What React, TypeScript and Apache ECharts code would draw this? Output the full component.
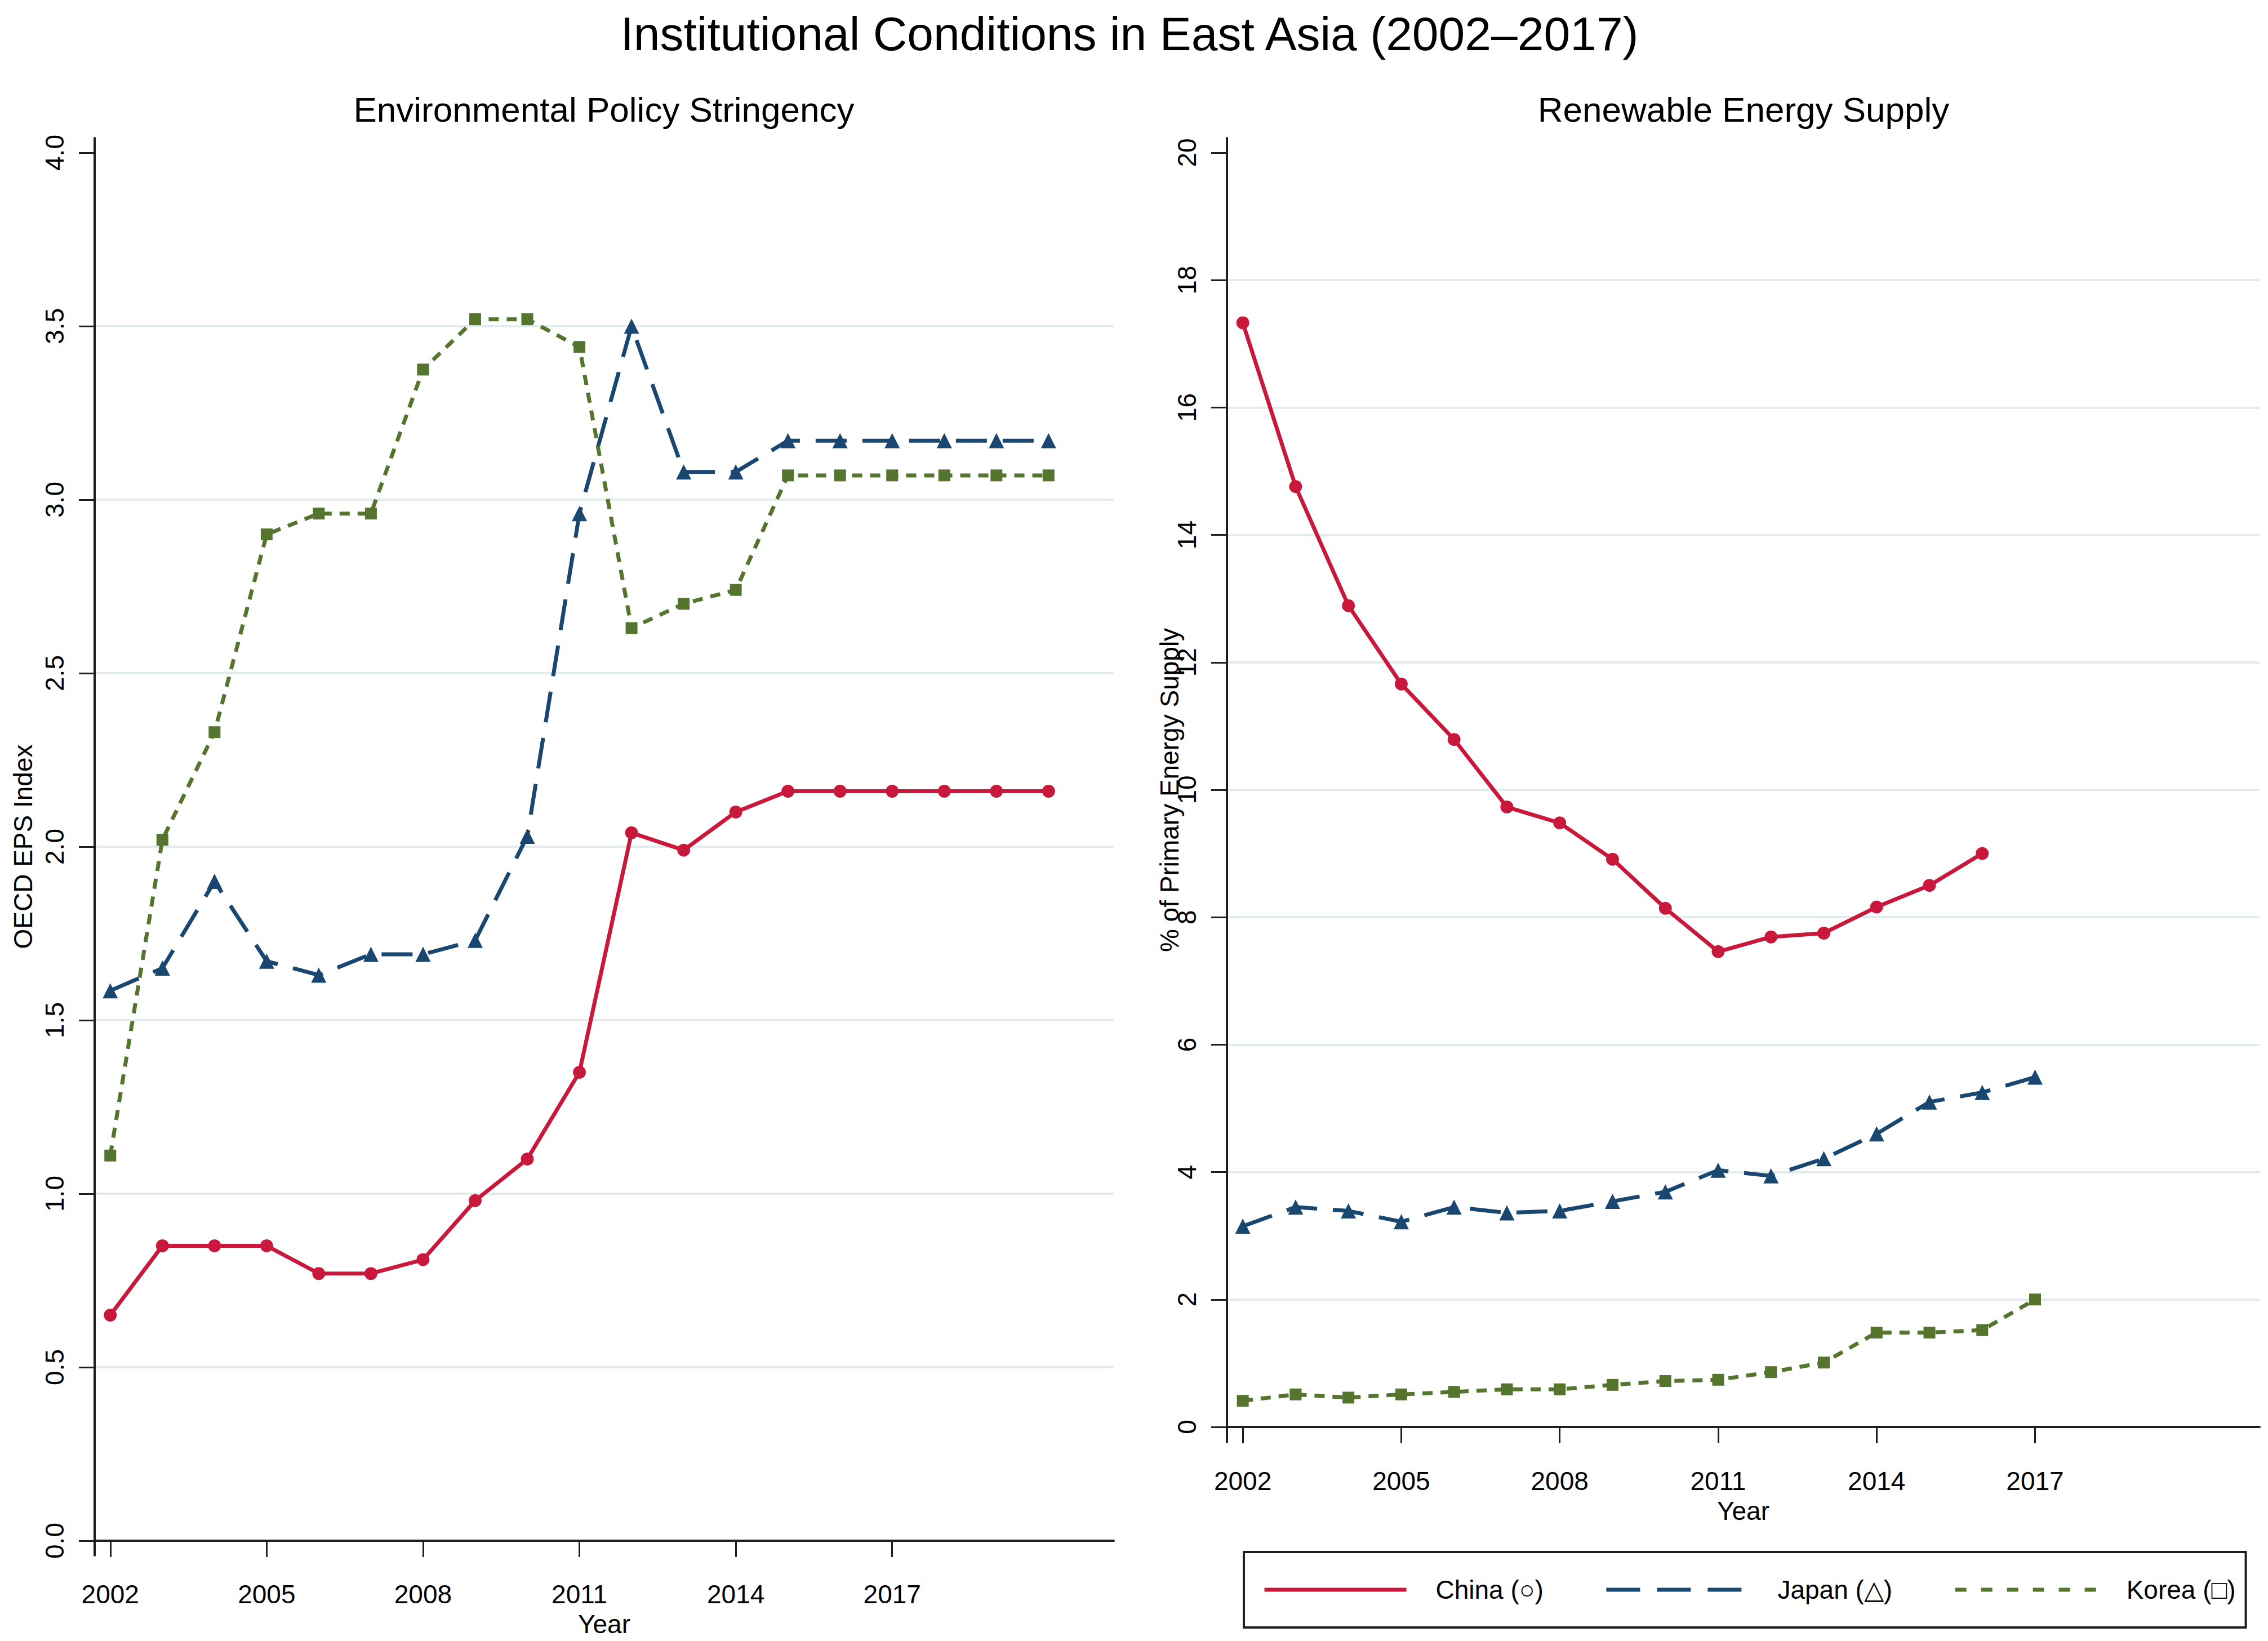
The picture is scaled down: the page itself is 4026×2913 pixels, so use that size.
import React, { useEffect, useRef } from "react";
import * as echarts from "echarts";

// years and values
const epsYears = [2002, 2003, 2004, 2005, 2006, 2007, 2008, 2009, 2010, 2011, 2012, 2013, 2014, 2015, 2016, 2017, 2018, 2019, 2020];
const chinaEps = [0.65, 0.85, 0.85, 0.85, 0.77, 0.77, 0.81, 0.98, 1.1, 1.35, 2.04, 1.99, 2.1, 2.16, 2.16, 2.16, 2.16, 2.16, 2.16];
const japanEps = [1.585, 1.65, 1.9, 1.67, 1.63, 1.69, 1.69, 1.73, 2.03, 2.96, 3.5, 3.08, 3.08, 3.17, 3.17, 3.17, 3.17, 3.17, 3.17];
const koreaEps = [1.11, 2.02, 2.33, 2.9, 2.96, 2.96, 3.375, 3.52, 3.52, 3.44, 2.63, 2.7, 2.74, 3.07, 3.07, 3.07, 3.07, 3.07, 3.07];

const resYears = [2002, 2003, 2004, 2005, 2006, 2007, 2008, 2009, 2010, 2011, 2012, 2013, 2014, 2015, 2016, 2017];
const chinaRes = [17.33, 14.76, 12.89, 11.66, 10.79, 9.73, 9.48, 8.91, 8.14, 7.46, 7.69, 7.75, 8.16, 8.5, 9.0];
const japanRes = [3.15, 3.45, 3.39, 3.22, 3.45, 3.36, 3.39, 3.54, 3.69, 4.03, 3.94, 4.21, 4.6, 5.1, 5.25, 5.49];
const koreaRes = [0.41, 0.51, 0.46, 0.51, 0.55, 0.59, 0.59, 0.66, 0.72, 0.74, 0.86, 1.01, 1.48, 1.48, 1.52, 2.0];

const yearTicks = [2002, 2005, 2008, 2011, 2014, 2017];
const epsTicks = [0, 0.5, 1, 1.5, 2, 2.5, 3, 3.5, 4];
const resTicks = [0, 2, 4, 6, 8, 10, 12, 14, 16, 18, 20];

const names = ["China (○)", "Japan (△)", "Korea (□)"];

const RED = "#c8193c";
const NAVY = "#1a476f";
const GREEN = "#55752f";
const AXIS = "#1e1e1e";
const GRIDLINE = "#e2ebee";
const FONT = "'Liberation Sans', Arial, Helvetica, sans-serif";

const JAPAN_DASH = [55, 28];
const KOREA_DASH = [18, 14];

const pairs = (xs: number[], ys: number[]) => ys.map((v, i) => [xs[i], v]);

const xAxisOf = (gridIndex: number) => ({
  type: "value",
  gridIndex,
  min: 2001.7,
  max: 2021.25,
  name: "Year",
  nameLocation: "middle",
  nameGap: 99,
  nameTextStyle: { fontSize: 46, color: "#000", fontFamily: FONT },
  axisLine: { show: true, lineStyle: { color: AXIS, width: 4 } },
  axisTick: { show: true, length: 29, customValues: yearTicks, lineStyle: { color: AXIS, width: 3 } },
  axisLabel: {
    customValues: yearTicks,
    margin: 46,
    fontSize: 46,
    color: "#000",
    fontFamily: FONT,
    formatter: (v: number) => String(v),
  },
  splitLine: { show: false },
});

const yAxisOf = (
  gridIndex: number,
  min: number,
  max: number,
  ticks: number[],
  name: string,
  nameGap: number,
  fmt: (v: number) => string,
  showMinLine: boolean
) => ({
  type: "value",
  gridIndex,
  min,
  max,
  name,
  nameLocation: "middle",
  nameGap,
  nameMoveOverlap: false,
  nameTextStyle: { fontSize: 46, color: "#000", fontFamily: FONT },
  axisLine: { show: true, lineStyle: { color: AXIS, width: 4 } },
  axisTick: { show: true, length: 28, customValues: ticks, lineStyle: { color: AXIS, width: 3 } },
  axisLabel: {
    customValues: ticks,
    rotate: 90,
    margin: 48,
    fontSize: 46,
    color: "#000",
    fontFamily: FONT,
    formatter: fmt,
  },
  splitLine: {
    show: true,
    showMinLine,
    showMaxLine: false,
    lineStyle: { color: GRIDLINE, width: 4 },
  },
});

const lineSeries = (
  name: string,
  gridIdx: number,
  data: number[][],
  color: string,
  symbol: string,
  symbolSize: number,
  type: any
) => ({
  name,
  type: "line",
  xAxisIndex: gridIdx,
  yAxisIndex: gridIdx,
  data,
  symbol,
  symbolSize,
  showSymbol: true,
  lineStyle: { color, width: 7, type },
  itemStyle: { color },
  emphasis: { disabled: true },
});

const App = () => {
  const chartRef = useRef<HTMLDivElement>(null);

  useEffect(() => {
    const chart = echarts.init(chartRef.current, null, { renderer: "svg" });

    chart.setOption({
      animation: false,
      backgroundColor: "#fff",
      textStyle: { fontFamily: FONT },
      title: [
        {
          text: "Institutional Conditions in East Asia (2002–2017)",
          left: 2005,
          top: 18,
          textAlign: "center",
          padding: 0,
          textStyle: { fontSize: 84, fontWeight: "normal", color: "#000", fontFamily: FONT },
        },
        {
          text: "Environmental Policy Stringency",
          left: 1072,
          top: 163,
          textAlign: "center",
          padding: 0,
          textStyle: { fontSize: 62, fontWeight: "normal", color: "#000", fontFamily: FONT },
        },
        {
          text: "Renewable Energy Supply",
          left: 3095,
          top: 163,
          textAlign: "center",
          padding: 0,
          textStyle: { fontSize: 62, fontWeight: "normal", color: "#000", fontFamily: FONT },
        },
      ],
      legend: {
        data: [
          { name: names[0] },
          { name: names[1], lineStyle: { type: [60, 30] } },
          { name: names[2], lineStyle: { type: [20, 26] } },
        ],
        left: 2208,
        top: 2755,
        orient: "horizontal",
        itemWidth: 252,
        itemHeight: 20,
        itemGap: 108,
        padding: [44, 18, 44, 33],
        borderColor: AXIS,
        borderWidth: 4,
        borderRadius: 0,
        backgroundColor: "#fff",
        selectedMode: false,
        itemStyle: { opacity: 0 },
        lineStyle: { width: 7 },
        textStyle: { fontSize: 46, color: "#000", fontFamily: FONT, padding: [0, 0, 0, 47] },
      },
      grid: [
        { left: 168, top: 245, width: 1809, height: 2516, containLabel: false, outerBoundsMode: "none" },
        { left: 2178, top: 245, width: 1833, height: 2315, containLabel: false, outerBoundsMode: "none" },
      ],
      xAxis: [xAxisOf(0), xAxisOf(1)],
      yAxis: [
        yAxisOf(0, -0.0422, 4.0422, epsTicks, "OECD EPS Index", 104, (v: number) => v.toFixed(1), false),
        yAxisOf(1, -0.239, 20.23, resTicks, "% of Primary Energy Supply", 79, (v: number) => String(v), true),
      ],
      series: [
        lineSeries(names[0], 0, pairs(epsYears, chinaEps), RED, "circle", 23, "solid"),
        lineSeries(names[1], 0, pairs(epsYears, japanEps), NAVY, "triangle", 27, JAPAN_DASH),
        lineSeries(names[2], 0, pairs(epsYears, koreaEps), GREEN, "rect", 21, KOREA_DASH),
        lineSeries(names[0], 1, pairs(resYears, chinaRes), RED, "circle", 23, "solid"),
        lineSeries(names[1], 1, pairs(resYears, japanRes), NAVY, "triangle", 27, JAPAN_DASH),
        lineSeries(names[2], 1, pairs(resYears, koreaRes), GREEN, "rect", 21, KOREA_DASH),
      ],
    });

    return () => {
      chart.dispose();
    };
  }, []);

  return (
    <div
      ref={chartRef}
      style={{ position: "absolute", left: 0, top: 0, width: "4026px", height: "2913px" }}
    ></div>
  );
};

export default App;
